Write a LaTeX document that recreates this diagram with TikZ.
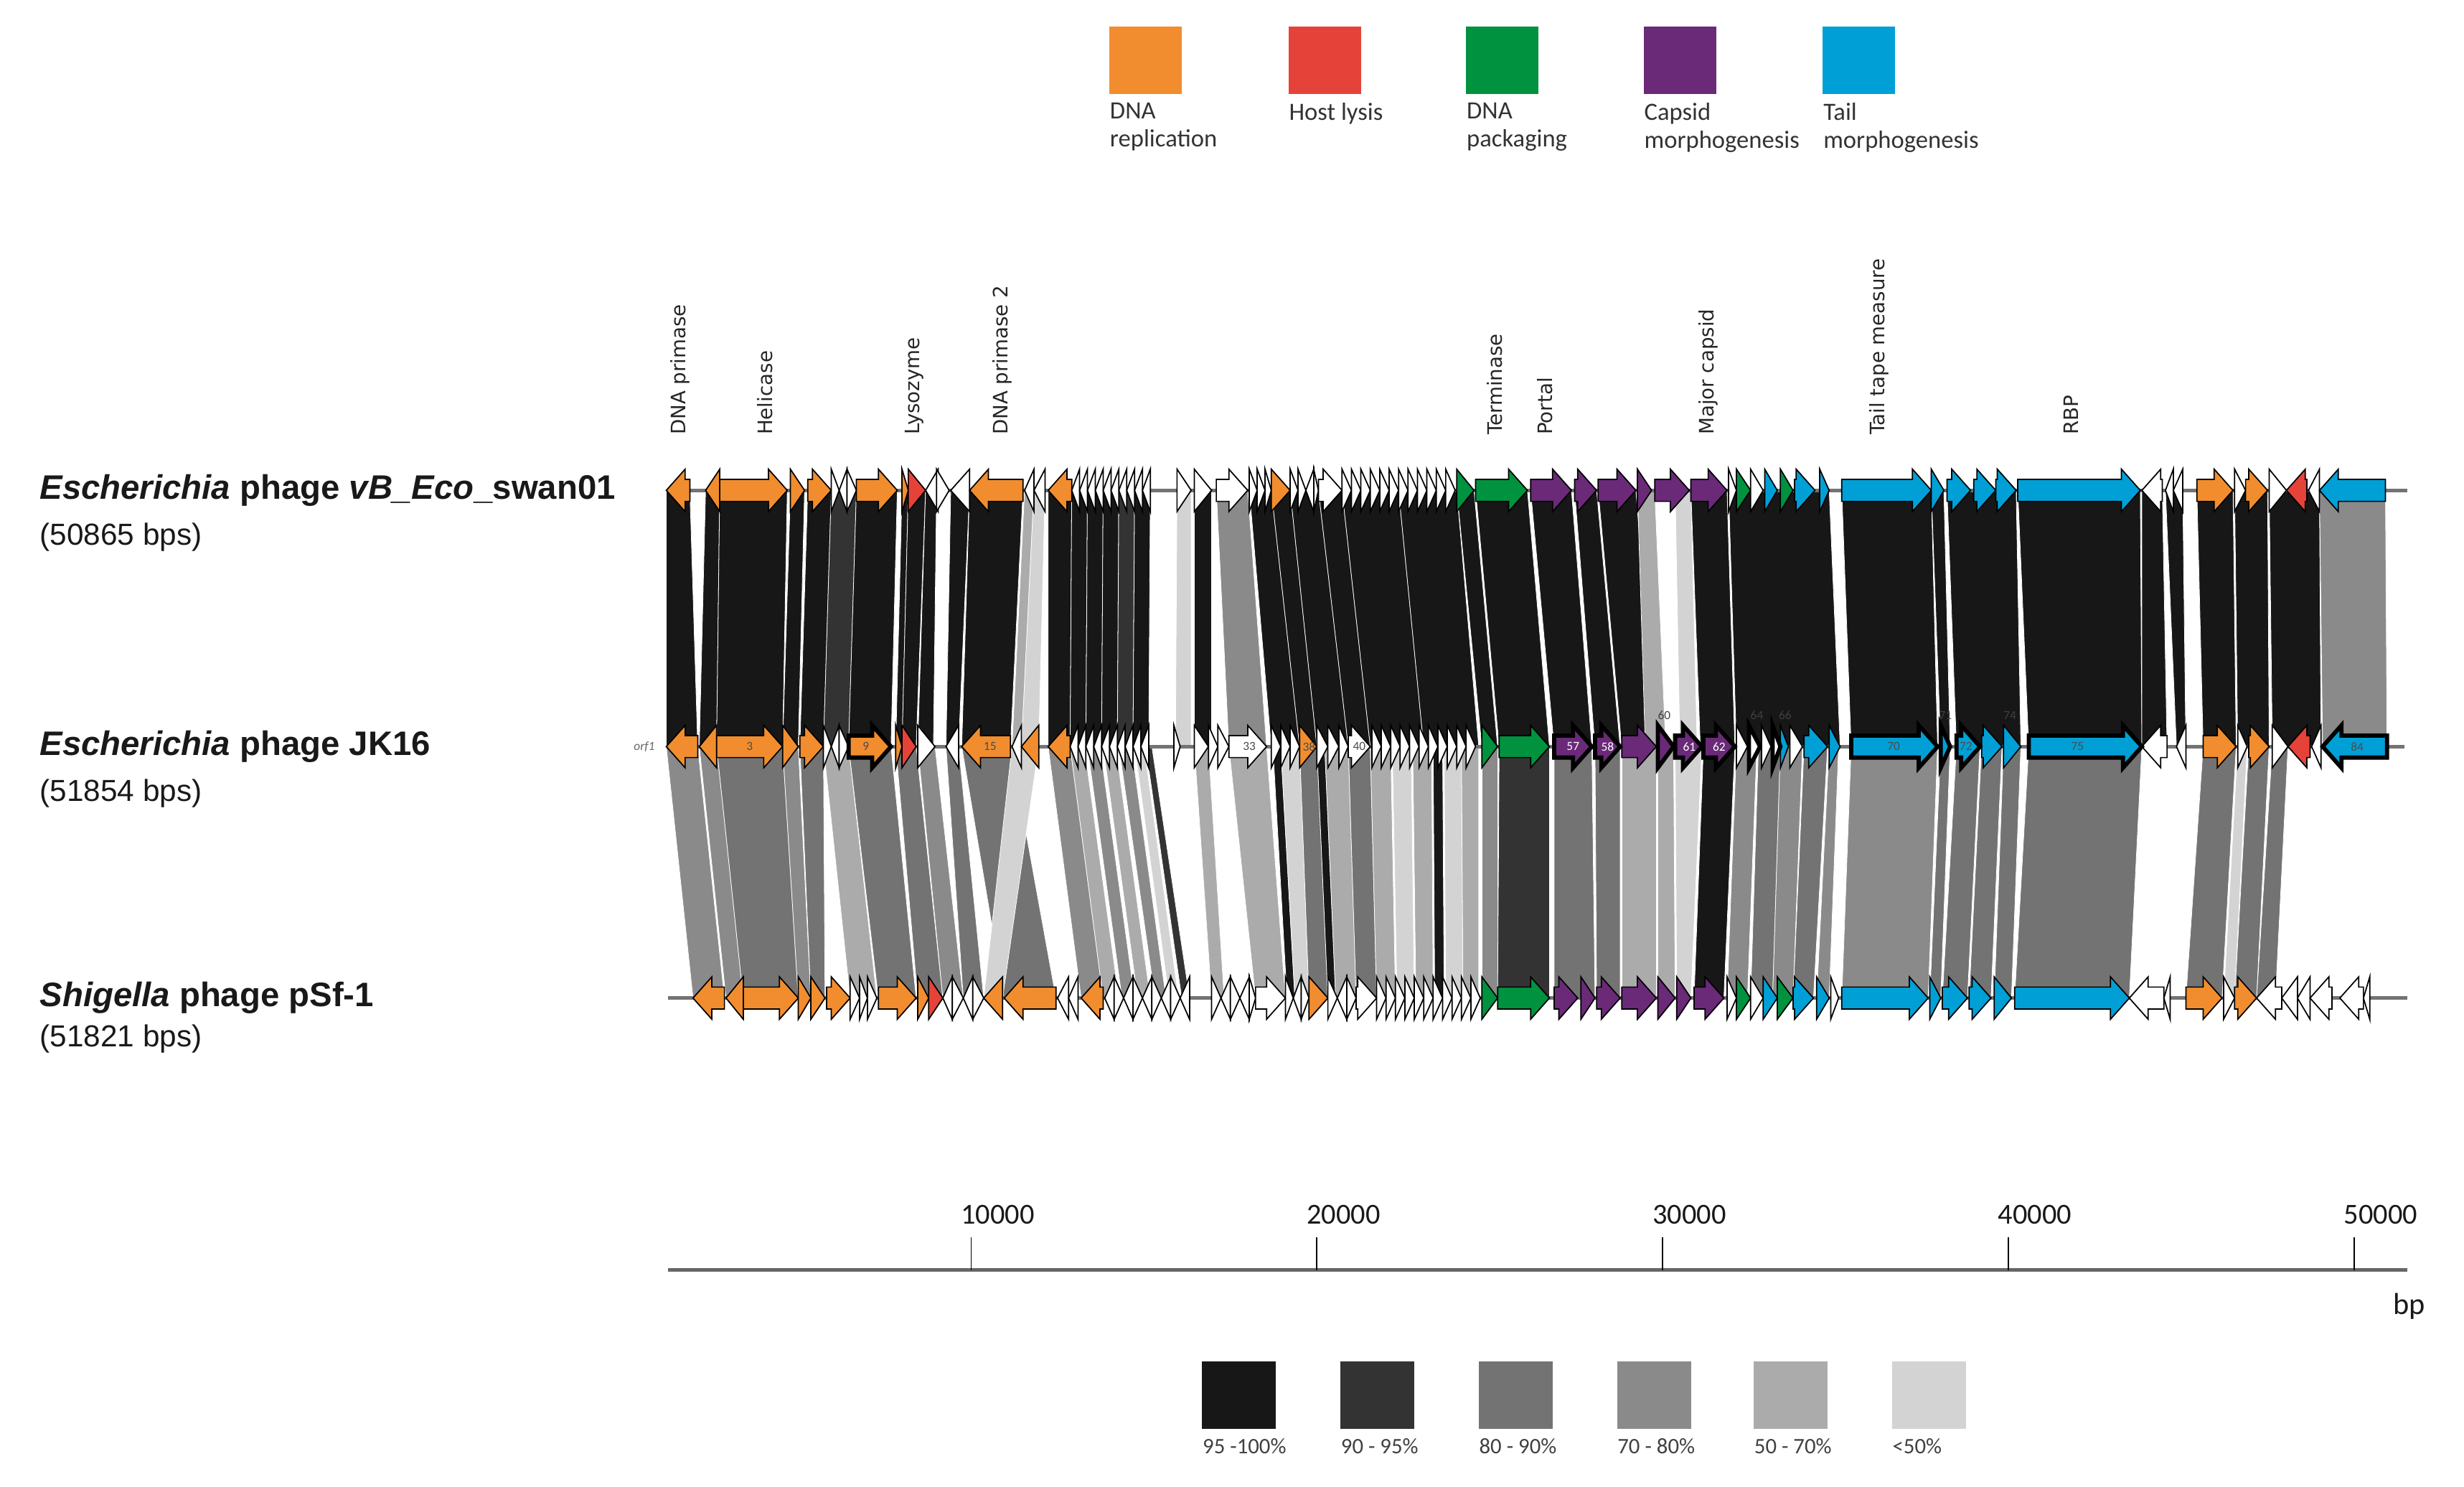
\documentclass[tikz,border=0pt]{standalone}
\usepackage{fontspec}
\setmainfont{Liberation Sans}
\newfontfamily\legfont{Carlito}
\newfontfamily\genefont{DejaVu Sans}

\definecolor{orep}{HTML}{F18D2E}
\definecolor{hostred}{HTML}{E5433A}
\definecolor{pkggreen}{HTML}{00923F}
\definecolor{capsid}{HTML}{6A2A78}
\definecolor{tailblue}{HTML}{00A0D6}
\definecolor{id95}{HTML}{171717}
\definecolor{id90}{HTML}{333333}
\definecolor{id80}{HTML}{737373}
\definecolor{id70}{HTML}{8A8A8A}
\definecolor{id50}{HTML}{ABABAB}
\definecolor{id00}{HTML}{D3D3D3}

% gene arrow: [style]{track y}{start}{end}{direction}{fill}
\newcommand{\genearrow}[6][gene]{%
  \pgfmathsetmacro\gnA{#3}%
  \pgfmathsetmacro\gnB{#4}%
  \pgfmathsetmacro\gnL{min(\gnB-\gnA,12)}%
  \pgfmathsetmacro\gnTip{(#5)>0 ? \gnB : \gnA}%
  \pgfmathsetmacro\gnTail{(#5)>0 ? \gnA : \gnB}%
  \pgfmathsetmacro\gnNeck{\gnTip-(#5)*\gnL}%
  \filldraw[#1, fill=#6] (\gnTail,#2-7) -- (\gnNeck,#2-7) -- (\gnNeck,#2-13.5) -- (\gnTip,#2)
    -- (\gnNeck,#2+13.5) -- (\gnNeck,#2+7) -- (\gnTail,#2+7) -- cycle;%
}

\begin{document}
\begin{tikzpicture}[x=0.02cm, y=-0.02cm,
    gene/.style={draw=black, line width=0.45pt, line join=miter},
    hlgene/.style={draw=black, line width=1.5pt, line join=miter},
    band/.style={draw=white, line width=0.2pt},
    track/.style={draw=black!55, line width=1.2pt},
    leglab/.style={font=\legfont\fontsize{9}{10.3}\selectfont, align=left, anchor=north west, inner sep=0, text=black!80},
    pctlab/.style={font=\legfont\fontsize{8}{9}\selectfont, anchor=west, inner sep=0, text=black!75},
    genelab/.style={font=\genefont\fontsize{7.2}{8}\selectfont, rotate=90, anchor=west, inner sep=0, text=black!85},
    phage/.style={font=\bfseries\fontsize{12.3}{14}\selectfont, anchor=west, inner sep=0, text=black!90},
    bps/.style={font=\fontsize{11}{13}\selectfont, anchor=west, inner sep=0, text=black!90},
    genenum/.style={font=\legfont\fontsize{4.5}{5}\selectfont, inner sep=0},
    scalelab/.style={font=\legfont\fontsize{10.5}{12}\selectfont, inner sep=0, text=black!90}]

  \useasboundingbox (0,0) rectangle (1568,946);

  % function legend
  \foreach \x/\col/\lab [count=\k] in {706/orep/{DNA\\replication}, 820/hostred/{Host lysis},
      933/pkggreen/{DNA\\packaging}, 1046/capsid/{Capsid\\morphogenesis}, 1160/tailblue/{Tail\\morphogenesis}} {
    \fill[\col] (\x,17) rectangle (\x+46,60);
    \node[leglab] (cat\k) at (\x,65) {\lab};
  }

  % gene names
  \node[genelab] (lDP) at (433,277) {DNA primase};
  \node[genelab] (lHe) at (487,277) {Helicase};
  \node[genelab] (lLy) at (582,277) {Lysozyme};
  \node[genelab] (lDP2) at (638,277) {DNA primase 2};
  \node[genelab] (lTe) at (951,277) {Terminase};
  \node[genelab] (lPo) at (983,277) {Portal};
  \node[genelab] (lMC) at (1087,277) {Major capsid};
  \node[genelab] (lTT) at (1196,277) {Tail tape measure};
  \node[genelab] (lRBP) at (1318,277) {RBP};

  % phage names
  \node[phage] (swan) at (25,312) {\textit{Escherichia} phage \textit{vB\_Eco}\_swan01};
  \node[bps] (swanlen) at (25,342) {(50865 bps)};
  \node[phage] (jk) at (25,475) {\textit{Escherichia} phage JK16};
  \node[bps] (jklen) at (25,505) {(51854 bps)};
  \node[phage] (psf) at (25,635) {\textit{Shigella} phage pSf-1};
  \node[bps] (psflen) at (25,661) {(51821 bps)};

  % identity bands swan01 -> JK16
  \foreach \ta/\tb/\ba/\bb/\idc in {424/439/424/444/id95, 449/458/445/456/id95, 458/501/456/498/id95,
      503/512/498/508/id95, 514/529/509/524/id95, 529/545/524/540/id90, 545/571/540/567/id95,
      574/578/570/574/id95, 578/589/574/583/id95, 589/596/584/594/id95, 605/617/602/610/id95,
      617/651/612/643/id95, 652/658/644/650/id50, 658/665/650/661/id00, 667/682/667/681/id95,
      682/692/681/691/id95, 692/702/691/701/id95, 702/712/701/711/id95, 712/722/711/721/id90,
      722/732/721/731/id95, 749/758/748/758/id00, 760/771/760/771/id95, 774/794/782/806/id70,
      795/809/809/827/id95, 809/821/827/838/id95, 821/839/838/858/id95, 839/854/858/872/id95,
      854/890/872/906/id95, 890/927/906/941/id95, 927/938/943/953/id95, 939/972/954/986/id95,
      974/1000/989/1013/id95, 1002/1016/1015/1031/id95, 1017/1041/1032/1054/id95,
      1042/1053/1047/1060/id50, 1066/1076/1069/1080/id00, 1076/1099/1082/1104/id95,
      1100/1164/1105/1171/id95, 1172/1229/1178/1233/id95, 1229/1237/1235/1241/id95,
      1239/1283/1245/1286/id95, 1284/1362/1291/1363/id95, 1363/1376/1363/1379/id95,
      1378/1389/1385/1391/id95, 1398/1421/1402/1423/id95, 1422/1443/1424/1444/id95,
      1444/1476/1446/1477/id95, 1476/1518/1478/1519/id70}
    \filldraw[band, fill=\idc] (\ta,312) -- (\tb,312) -- (\bb,475) -- (\ba,475) -- cycle;

  % identity bands JK16 -> pSf-1
  \foreach \ta/\tb/\ba/\bb/\idc in {424/444/441/461/id70, 445/456/462/473/id70, 456/498/473/508/id80,
      498/508/508/516/id70, 509/524/516/525/id80, 524/540/541/558/id50, 540/567/559/583/id80,
      570/583/584/600/id80, 584/595/600/613/id70, 602/610/613/626/id80, 612/643/639/672/id80,
      644/661/626/638/id00, 667/681/688/702/id70, 681/690/702/712/id50, 692/700/714/722/id70,
      702/710/724/732/id50, 712/720/735/742/id70, 722/728/744/750/id00, 729/733/752/757/id90,
      760/769/771/779/id50, 782/806/799/818/id50, 810/815/819/824/id95, 815/827/824/833/id00,
      827/838/833/845/id80, 838/843/845/850/id95, 843/858/850/863/id50, 858/872/863/876/id80,
      872/885/876/888/id50, 886/898/889/900/id00, 899/911/901/912/id50, 912/918/913/919/id95,
      919/930/920/931/id00, 930/941/931/941/id50, 943/953/943/953/id70, 954/986/953/986/id90,
      989/1013/989/1015/id80, 1015/1031/1016/1031/id80, 1032/1054/1032/1054/id50,
      1055/1065/1055/1066/id50, 1066/1083/1067/1076/id00, 1084/1104/1078/1097/id95,
      1105/1118/1099/1112/id70, 1119/1133/1114/1128/id80, 1133/1147/1128/1141/id70,
      1148/1163/1141/1154/id80, 1164/1170/1156/1164/id70, 1178/1233/1172/1227/id70,
      1235/1241/1228/1235/id80, 1245/1260/1236/1252/id80, 1261/1274/1253/1267/id80,
      1275/1286/1269/1280/id80, 1291/1363/1282/1355/id80, 1402/1423/1391/1414/id80,
      1424/1430/1415/1422/id00, 1431/1444/1422/1436/id80, 1446/1456/1436/1448/id80}
    \filldraw[band, fill=\idc] (\ta,475) -- (\tb,475) -- (\bb,635) -- (\ba,635) -- cycle;

  % genome lines
  \coordinate (s1) at (425,312); \coordinate (e1) at (1532,312);
  \coordinate (s2) at (425,475); \coordinate (e2) at (1530,475);
  \coordinate (s3) at (425,635); \coordinate (e3) at (1532,635);
  \draw[track] (s1) -- (e1);
  \draw[track] (s2) -- (e2);
  \draw[track] (s3) -- (e3);

  % swan01 genes
  \foreach \xa/\xb/\dir/\col in {424/439/-1/orep, 449/458/-1/orep, 458/501/1/orep, 503/512/1/orep,
      514/529/1/orep, 529/534/1/white, 534/539/-1/white, 539/545/1/white, 545/571/1/orep,
      574/578/1/orep, 578/589/1/hostred, 589/597/-1/white, 596/604/1/white, 605/617/-1/white,
      617/651/-1/orep, 652/658/-1/white, 658/665/-1/white, 667/682/-1/orep, 749/758/1/white,
      760/771/1/white, 774/794/1/white, 795/800/1/white, 800/805/1/white, 805/809/1/white,
      809/821/1/orep, 821/826/1/white, 826/831/1/white, 831/836/-1/white, 836/839/1/white,
      839/854/1/white, 927/938/1/pkggreen, 939/972/1/pkggreen, 974/1000/1/capsid,
      1002/1016/1/capsid, 1017/1041/1/capsid, 1042/1051/1/capsid, 1053/1075/1/capsid,
      1076/1099/1/capsid, 1100/1105/1/white, 1105/1114/1/pkggreen, 1114/1122/1/white,
      1123/1131/1/tailblue, 1133/1141/1/pkggreen, 1142/1155/1/tailblue, 1158/1164/1/tailblue,
      1172/1229/1/tailblue, 1229/1237/1/tailblue, 1239/1254/1/tailblue, 1256/1270/1/tailblue,
      1270/1283/1/tailblue, 1284/1362/1/tailblue, 1363/1376/-1/white, 1378/1383/-1/white,
      1383/1389/-1/white, 1398/1421/1/orep, 1422/1429/1/white, 1429/1443/1/orep,
      1444/1455/1/white, 1455/1468/-1/hostred, 1469/1476/-1/white, 1476/1518/-1/tailblue}
    \genearrow{312}{\xa}{\xb}{\dir}{\col};
  \foreach \i in {0,...,9} \genearrow{312}{682+5*\i}{687+5*\i}{-1}{white};
  \foreach \i in {0,...,11} \genearrow{312}{854+6*\i}{860+6*\i}{1}{white};

  % JK16 genes
  \foreach \xa/\xb/\dir/\col in {424/444/-1/orep, 445/456/-1/orep, 456/498/1/orep, 498/508/1/orep,
      509/524/1/orep, 524/529/1/white, 529/534/-1/white, 534/540/1/white, 570/574/1/orep,
      574/583/1/hostred, 584/595/1/white, 602/610/-1/white, 612/643/-1/orep, 644/650/-1/white,
      650/661/-1/orep, 667/681/-1/orep, 747/751/1/white, 760/769/1/white, 769/775/1/white,
      775/782/1/white, 782/806/1/white, 809/815/1/white, 815/821/1/white, 821/827/1/white,
      827/838/1/orep, 838/845/1/white, 845/852/1/white, 852/858/1/white, 858/872/1/white,
      943/953/1/pkggreen, 954/986/1/pkggreen, 1032/1054/1/capsid, 1105/1112/1/white,
      1121/1127/1/white, 1133/1138/1/tailblue, 1139/1147/1/white, 1148/1163/1/tailblue,
      1164/1171/1/tailblue, 1261/1274/1/tailblue, 1275/1286/1/tailblue, 1363/1379/-1/white,
      1385/1391/-1/white, 1402/1423/1/orep, 1424/1430/1/white, 1431/1444/1/orep,
      1446/1456/1/white, 1456/1470/-1/hostred, 1471/1477/-1/white}
    \genearrow{475}{\xa}{\xb}{\dir}{\col};
  \foreach \i in {0,...,9} \genearrow{475}{681+5*\i}{686+5*\i}{-1}{white};
  \foreach \i in {0,...,10} \genearrow{475}{873+6*\i}{879+6*\i}{1}{white};
  % JK16 genes with bold outline
  \foreach \xa/\xb/\dir/\col in {540/567/1/orep, 989/1013/1/capsid, 1015/1031/1/capsid,
      1055/1065/1/capsid, 1066/1083/1/capsid, 1084/1104/1/capsid, 1113/1120/1/white,
      1128/1133/1/white, 1178/1233/1/tailblue, 1235/1241/1/tailblue, 1245/1260/1/tailblue,
      1291/1363/1/tailblue, 1478/1519/-1/tailblue}
    \genearrow[hlgene]{475}{\xa}{\xb}{\dir}{\col};

  % pSf-1 genes
  \foreach \xa/\xb/\dir/\col in {441/461/-1/orep, 462/473/-1/orep, 473/508/1/orep, 508/516/1/orep,
      516/525/1/orep, 526/541/1/orep, 541/547/1/white, 547/552/1/white, 552/558/1/white,
      559/583/1/orep, 584/591/1/orep, 591/600/1/hostred, 600/606/-1/white, 606/613/1/white,
      613/619/-1/white, 619/626/1/white, 626/638/-1/orep, 639/672/-1/orep, 673/680/-1/white,
      680/686/-1/white, 688/702/-1/orep, 771/777/1/white, 777/783/-1/white, 783/789/1/white,
      789/795/-1/white, 795/799/1/white, 799/818/1/white, 818/823/1/white, 823/828/-1/white,
      828/833/1/white, 833/845/1/orep, 845/851/1/white, 851/857/-1/white, 857/863/1/white,
      863/876/1/white, 943/953/1/pkggreen, 953/986/1/pkggreen, 989/1004/1/capsid,
      1006/1015/1/capsid, 1016/1031/1/capsid, 1032/1054/1/capsid, 1055/1066/1/capsid,
      1067/1076/1/capsid, 1078/1097/1/capsid, 1099/1105/1/white, 1105/1114/1/pkggreen,
      1114/1122/1/white, 1122/1131/1/tailblue, 1131/1141/1/pkggreen, 1141/1154/1/tailblue,
      1156/1164/1/tailblue, 1165/1170/1/white, 1172/1227/1/tailblue, 1228/1235/1/tailblue,
      1236/1252/1/tailblue, 1253/1267/1/tailblue, 1269/1280/1/tailblue, 1282/1355/1/tailblue,
      1355/1377/-1/white, 1377/1381/-1/white, 1391/1414/1/orep, 1415/1422/1/white,
      1422/1436/1/orep, 1436/1452/-1/white, 1452/1462/-1/white, 1462/1470/-1/white,
      1470/1484/-1/white, 1489/1504/-1/white, 1504/1508/-1/white}
    \genearrow{635}{\xa}{\xb}{\dir}{\col};
  \foreach \i [evaluate=\i as \dir using {2*mod(\i,2)-1}] in {0,...,8}
    \genearrow{635}{703+6*\i}{709+6*\i}{\dir}{white};
  \foreach \i in {0,...,10} \genearrow{635}{876+6*\i}{882+6*\i}{1}{white};

  % JK16 gene numbers
  \node[genenum, text=black!60, font=\legfont\itshape\fontsize{4.5}{5}\selectfont] (orf1) at (410,475) {orf1};
  \foreach \x/\t/\col in {477/3/black!70, 551/9/black!70, 630/15/black!70, 795/33/black!70,
      833/38/black!70, 865/40/black!70, 1001/57/white, 1023/58/white, 1075/61/white,
      1094/62/white, 1205/70/black!70, 1251/72/black!70, 1322/75/black!70, 1500/84/black!70}
    \node[genenum, text=\col] (n\t) at (\x,475) {\t};
  \foreach \x/\t in {1059/60, 1118/64, 1136/66, 1238/71, 1279/74}
    \node[genenum, text=black!75] (n\t) at (\x,455) {\t};

  % scale bar
  \coordinate (bar0) at (425,808); \coordinate (bar1) at (1532,808);
  \draw[draw=black!60, line width=1.3pt] (bar0) -- (bar1);
  \foreach \t [count=\k] in {10000,20000,30000,40000,50000} {
    \coordinate (tk\k) at (398+220*\k,808);
    \draw[line width=0.5pt] (tk\k) -- ++(0,-21);
    \node[scalelab] (tl\k) at (415+220*\k,773) {\t};
  }
  \node[scalelab, font=\legfont\fontsize{11}{12}\selectfont] (bp) at (1533,831) {bp};

  % identity legend
  \foreach \x/\idc/\lab [count=\k] in {765/id95/{95 -100\%}, 853/id90/{90 - 95\%}, 941/id80/{80 - 90\%},
      1029/id70/{70 - 80\%}, 1116/id50/{50 - 70\%}, 1204/id00/{<50\%}} {
    \fill[\idc] (\x,866) rectangle (\x+47,909);
    \node[pctlab] (pct\k) at (\x,920) {\lab};
  }
\end{tikzpicture}
\end{document}
